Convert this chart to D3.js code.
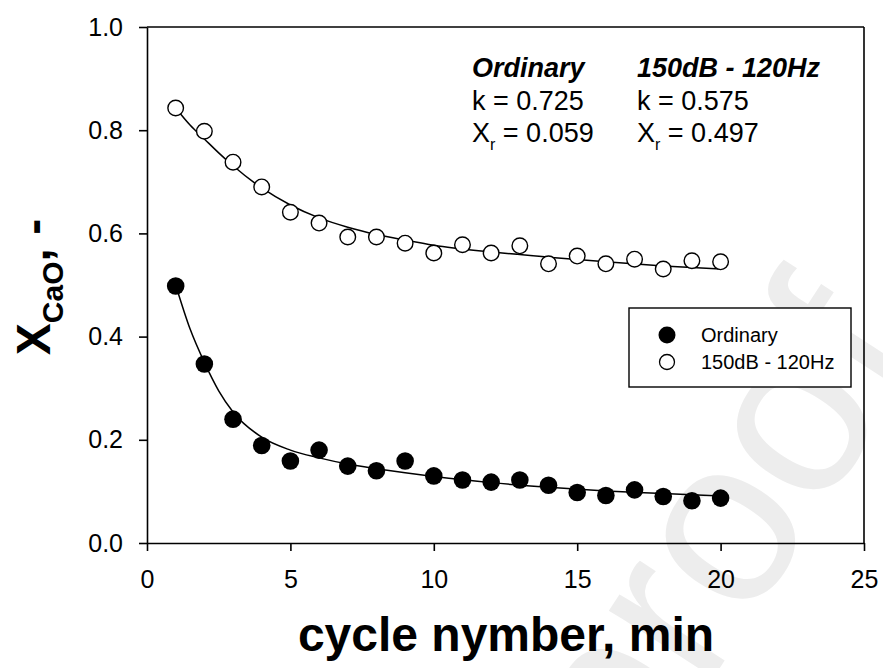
<!DOCTYPE html>
<html>
<head>
<meta charset="utf-8">
<script src="https://cdn.jsdelivr.net/npm/d3@7"></script>
<style>
  html, body { margin: 0; padding: 0; background: #fff; }
  svg { display: block; font-family: Arial, "Liberation Sans", sans-serif; }
</style>
</head>
<body>
<svg id="chart" width="883" height="668"></svg>
<script>
// Cycle numbers
const cycles = d3.range(1, 21);

// Measured CaO conversion per cycle
const ordinary = [0.498, 0.347, 0.240, 0.189, 0.159, 0.180, 0.149, 0.140, 0.159, 0.130,
                  0.122, 0.118, 0.122, 0.112, 0.098, 0.092, 0.103, 0.090, 0.082, 0.087];
const acoustic = [0.843, 0.798, 0.738, 0.690, 0.641, 0.620, 0.593, 0.593, 0.581, 0.562,
                  0.578, 0.562, 0.576, 0.541, 0.556, 0.541, 0.550, 0.531, 0.547, 0.545];

// Fitted decay curves (sampled)
const fitX = [1, 1.5, 2, 2.5, 3, 4, 5, 6, 7, 8, 9, 10, 12, 14, 16, 18, 20];
const fitOrdinary = [0.500, 0.415, 0.350, 0.295, 0.254, 0.205, 0.180, 0.165, 0.153, 0.144,
                     0.136, 0.129, 0.117, 0.108, 0.101, 0.096, 0.091];
const fitAcoustic = [0.843, 0.810, 0.783, 0.756, 0.731, 0.688, 0.655, 0.630, 0.612, 0.598,
                     0.587, 0.577, 0.564, 0.554, 0.545, 0.537, 0.531];

// Axis ticks
const xTicks = [0, 5, 10, 15, 20, 25];
const yTicks = [0.0, 0.2, 0.4, 0.6, 0.8, 1.0];

const seriesNames = ["Ordinary", "150dB - 120Hz"];
const fitParams = [
  { name: "Ordinary", k: "0.725", xr: "0.059" },
  { name: "150dB - 120Hz", k: "0.575", xr: "0.497" }
];

const FONT = "Arial, 'Liberation Sans', sans-serif";
const svg = d3.select("#chart");

// Watermark
svg.append("text")
  .attr("transform", "translate(925,352) rotate(-57)")
  .attr("text-anchor", "end")
  .attr("font-size", 235)
  .attr("font-family", FONT)
  .attr("fill", "#ededed")
  .text("Journal Pre-proof");

const x = d3.scaleLinear().domain([0, 25]).range([147, 864]);
const y = d3.scaleLinear().domain([0, 1]).range([543, 27]);

// Frame: top and right borders
svg.append("line").attr("x1", x(0)).attr("x2", x(25)).attr("y1", y(1)).attr("y2", y(1))
  .attr("stroke", "#000").attr("stroke-width", 1.6);
svg.append("line").attr("x1", x(25)).attr("x2", x(25)).attr("y1", y(1)).attr("y2", y(0))
  .attr("stroke", "#000").attr("stroke-width", 1.6);

const xAxis = svg.append("g").attr("transform", `translate(0,${y(0)})`)
  .call(d3.axisBottom(x).tickValues(xTicks).tickFormat(d3.format("d")).tickSize(8).tickPadding(19).tickSizeOuter(0));
const yAxis = svg.append("g").attr("transform", `translate(${x(0)},0)`)
  .call(d3.axisLeft(y).tickValues(yTicks).tickFormat(d3.format(".1f")).tickSize(8).tickPadding(16).tickSizeOuter(0));

[xAxis, yAxis].forEach(g => {
  g.select(".domain").attr("stroke", "#000").attr("stroke-width", 1.6);
  g.selectAll(".tick line").attr("stroke", "#000").attr("stroke-width", 1.6);
  g.selectAll(".tick text").attr("font-size", 25).attr("fill", "#000")
    .attr("font-family", FONT);
});

// Fit curves
const line = d3.line().x(d => x(d[0])).y(d => y(d[1])).curve(d3.curveMonotoneX);
[fitOrdinary, fitAcoustic].forEach(vals => {
  svg.append("path")
    .attr("d", line(fitX.map((v, i) => [v, vals[i]])))
    .attr("fill", "none").attr("stroke", "#000").attr("stroke-width", 1.5);
});

// Data markers
svg.append("g").selectAll("circle").data(cycles).join("circle")
  .attr("cx", d => x(d)).attr("cy", (d, i) => y(ordinary[i])).attr("r", 8.8)
  .attr("fill", "#000");
svg.append("g").selectAll("circle").data(cycles).join("circle")
  .attr("cx", d => x(d)).attr("cy", (d, i) => y(acoustic[i])).attr("r", 7.8)
  .attr("fill", "#fff").attr("stroke", "#000").attr("stroke-width", 1.4);

// Fit parameter annotations
const ann = svg.append("g").attr("font-size", 27).attr("fill", "#000").attr("font-family", FONT);
fitParams.forEach((p, i) => {
  const x0 = [472, 637][i];
  ann.append("text").attr("x", x0).attr("y", 77).attr("font-weight", "bold")
    .attr("font-style", "italic").text(p.name);
  ann.append("text").attr("x", x0).attr("y", 110).text("k = " + p.k);
  const t = ann.append("text").attr("x", x0).attr("y", 142);
  t.append("tspan").text("X");
  t.append("tspan").attr("font-size", 16).attr("dy", 8).text("r");
  t.append("tspan").attr("dy", -8).text(" = " + p.xr);
});

// Legend
const lg = svg.append("g").attr("font-family", FONT);
lg.append("rect").attr("x", 629).attr("y", 308).attr("width", 222).attr("height", 79)
  .attr("fill", "#fff").attr("stroke", "#000").attr("stroke-width", 1.4);
seriesNames.forEach((n, i) => {
  const cy = 335 + i * 27;
  if (i === 0) {
    lg.append("circle").attr("cx", 667).attr("cy", cy).attr("r", 8.5).attr("fill", "#000");
  } else {
    lg.append("circle").attr("cx", 667).attr("cy", cy).attr("r", 7.5).attr("fill", "#fff")
      .attr("stroke", "#000").attr("stroke-width", 1.3);
  }
  lg.append("text").attr("x", 701).attr("y", cy + 7).attr("font-size", 20).text(n);
});

// Axis titles
svg.append("text").attr("x", 506).attr("y", 651).attr("text-anchor", "middle")
  .attr("font-family", FONT)
  .attr("font-size", 48).attr("font-weight", "bold").text("cycle nymber, min");

const yt = svg.append("text").attr("transform", "translate(50,287) rotate(-90)")
  .attr("text-anchor", "middle").attr("font-weight", "bold").attr("font-family", FONT);
yt.append("tspan").attr("font-size", 48).text("X");
yt.append("tspan").attr("font-size", 30).attr("dy", 13).text("CaO");
yt.append("tspan").attr("font-size", 48).attr("dy", -13).text(", -");
</script>
</body>
</html>
